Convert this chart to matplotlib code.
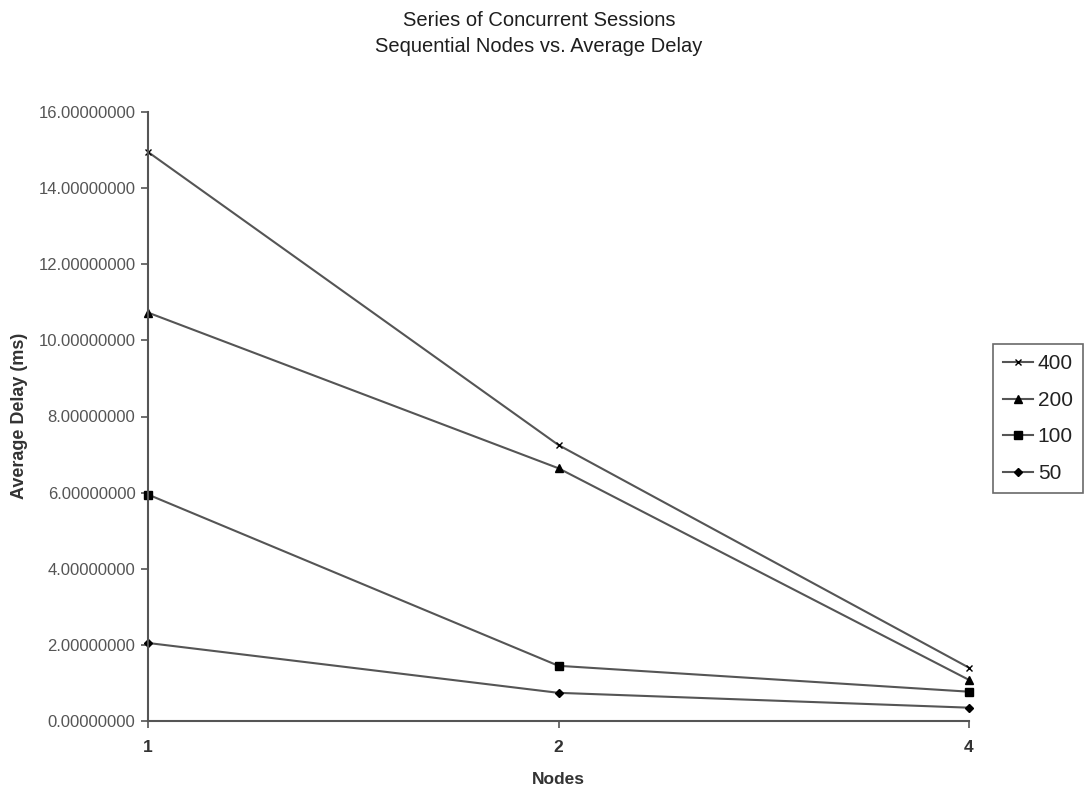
import matplotlib.pyplot as plt
import numpy as np

plt.rcParams['font.family'] = ['Liberation Sans', 'DejaVu Sans']

# Dados
nodes = ['1', '2', '4']
sessions = ['400', '200', '100', '50']
delay_400 = [14.95, 7.25, 1.40]
delay_200 = [10.73, 6.64, 1.08]
delay_100 = [5.95, 1.45, 0.77]
delay_50 = [2.05, 0.74, 0.35]

series = [delay_400, delay_200, delay_100, delay_50]
markers = ['x', '^', 's', 'D']
msizes = [5, 6, 6, 4]

fig = plt.figure(figsize=(10.85, 7.93), dpi=100)
ax = fig.add_axes([148 / 1085, 1 - 721 / 793, (969 - 148) / 1085, (721 - 112) / 793])

pos = np.arange(len(nodes))
for vals, lab, mk, ms in zip(series, sessions, markers, msizes):
    ax.plot(pos, vals, color='#555555', linewidth=1.5, marker=mk, markersize=ms,
            markerfacecolor='black', markeredgecolor='black', markeredgewidth=1.0,
            label=lab, clip_on=False)

ax.set_xlim(0, 2)
ax.set_ylim(0, 16)
ax.set_xticks(pos)
ax.set_xticklabels(nodes, fontsize=12.5, fontweight='bold')
ax.set_yticks(np.arange(0, 17, 2))
ax.set_yticklabels(['%.8f' % v for v in np.arange(0, 17, 2)], fontsize=12)
ax.tick_params(axis='both', direction='out', length=5, width=1.2, colors='#555555', pad=4)
ax.tick_params(axis='x', labelcolor='#333333', pad=9)
ax.tick_params(axis='y', labelcolor='#555555')

for s in ['top', 'right']:
    ax.spines[s].set_visible(False)
for s in ['left', 'bottom']:
    ax.spines[s].set_color('#555555')
    ax.spines[s].set_linewidth(1.5)

fig.text(539 / 1085, 1 - 20 / 793, 'Series of Concurrent Sessions', ha='center', va='center',
         fontsize=14.5, color='#1e1e1e')
fig.text(539 / 1085, 1 - 47 / 793, 'Sequential Nodes vs. Average Delay', ha='center', va='center',
         fontsize=14.5, color='#1e1e1e')
fig.text(20 / 1085, 1 - 416 / 793, 'Average Delay (ms)', rotation=90, ha='center', va='center',
         fontsize=13, fontweight='bold', color='#333333')
fig.text(558 / 1085, 1 - 780 / 793, 'Nodes', ha='center', va='center',
         fontsize=12.5, fontweight='bold', color='#333333')

leg = ax.legend(loc='upper left', bbox_to_anchor=(993 / 1085, 1 - 344 / 793),
                bbox_transform=fig.transFigure, fontsize=15, frameon=True, fancybox=False,
                handlelength=1.4, handletextpad=0.25, labelspacing=0.84, borderpad=0.5,
                borderaxespad=0)
leg.get_frame().set_edgecolor('#444444')
leg.get_frame().set_linewidth(1.2)
for t in leg.get_texts():
    t.set_color('#222222')

plt.savefig('out.png', dpi=100)
